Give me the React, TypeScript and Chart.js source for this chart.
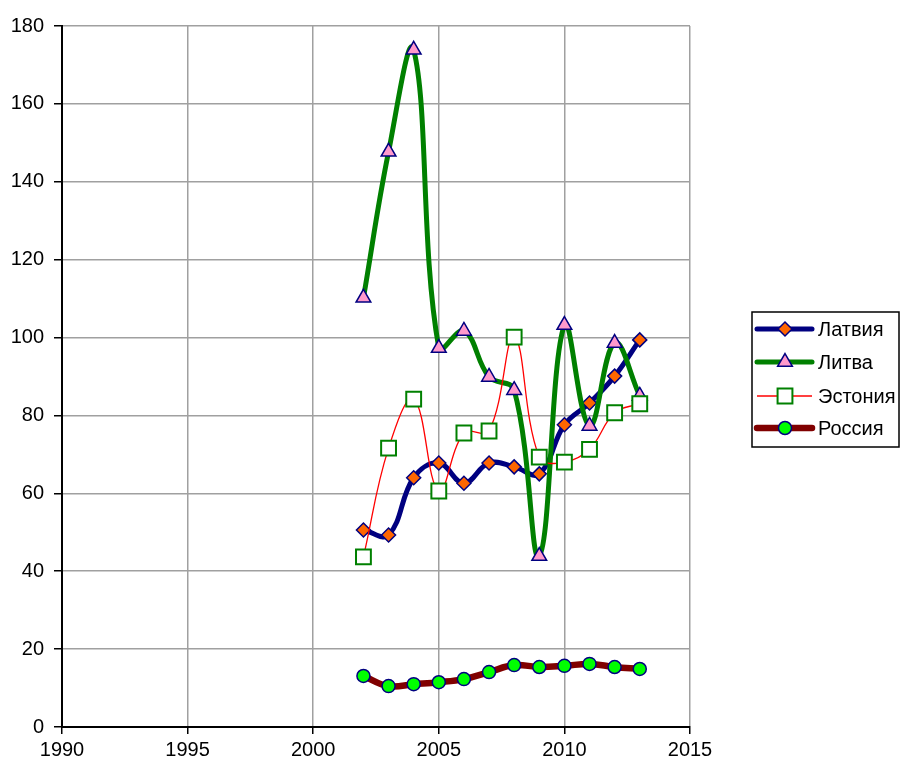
import React, { useEffect, useRef } from "react";
import { Chart, registerables } from "chart.js";

Chart.register(...registerables);

const years = [2002, 2003, 2004, 2005, 2006, 2007, 2008, 2009, 2010, 2011, 2012, 2013];
const latvia = [50.6, 49.3, 64.0, 67.8, 62.6, 67.8, 66.8, 65.0, 77.6, 83.2, 90.1, 99.4];
const lithuania = [110.2, 147.7, 173.9, 97.3, 101.7, 89.9, 86.5, 43.9, 103.2, 77.3, 98.6, 85.0];
const estonia = [43.7, 71.6, 84.2, 60.6, 75.5, 76.0, 100.1, 69.3, 68.0, 71.3, 80.7, 83.0];
const russia = [13.1, 10.5, 11.0, 11.5, 12.3, 14.1, 15.9, 15.4, 15.7, 16.2, 15.4, 14.9];
const seriesNames = ["Латвия", "Литва", "Эстония", "Россия"];
const xTicks = [1990, 1995, 2000, 2005, 2010, 2015];
const yTicks = [0, 20, 40, 60, 80, 100, 120, 140, 160, 180];

const FONT = "'Liberation Sans', Arial, sans-serif";

function drawMarker(ctx: CanvasRenderingContext2D, style: string, x: number, y: number, r: number, fill: string, stroke: string, bw: number) {
  ctx.save();
  ctx.beginPath();
  if (style === "rectRot") {
    ctx.moveTo(x, y - r);
    ctx.lineTo(x + r, y);
    ctx.lineTo(x, y + r);
    ctx.lineTo(x - r, y);
    ctx.closePath();
  } else if (style === "triangle") {
    ctx.moveTo(x, y - r);
    ctx.lineTo(x + r * 0.866, y + r * 0.5);
    ctx.lineTo(x - r * 0.866, y + r * 0.5);
    ctx.closePath();
  } else if (style === "rect") {
    const s = r * Math.SQRT1_2;
    ctx.rect(x - s, y - s, 2 * s, 2 * s);
  } else {
    ctx.arc(x, y, r, 0, Math.PI * 2);
  }
  ctx.fillStyle = fill;
  ctx.fill();
  ctx.lineWidth = bw;
  ctx.strokeStyle = stroke;
  ctx.stroke();
  ctx.restore();
}

const legendPlugin = {
  id: "customLegend",
  afterDraw(chart: any) {
    const ctx = chart.ctx as CanvasRenderingContext2D;
    const left = 752, top = 312, w = 147, h = 135;
    ctx.save();
    ctx.fillStyle = "#ffffff";
    ctx.fillRect(left, top, w, h);
    ctx.lineWidth = 1.5;
    ctx.strokeStyle = "#000000";
    ctx.strokeRect(left, top, w, h);
    const rowsY = [329, 362, 396, 428];
    chart.data.datasets.forEach((ds: any, i: number) => {
      const y = rowsY[i];
      ctx.beginPath();
      ctx.moveTo(757, y);
      ctx.lineTo(812, y);
      ctx.lineWidth = ds.borderWidth;
      ctx.strokeStyle = ds.borderColor;
      ctx.lineCap = ds.borderWidth > 2 ? "round" : "butt";
      ctx.stroke();
      drawMarker(ctx, ds.pointStyle, 785, y, ds.pointRadius, ds.pointBackgroundColor, ds.pointBorderColor, ds.pointBorderWidth);
      ctx.fillStyle = "#000";
      ctx.font = `20px ${FONT}`;
      ctx.textBaseline = "middle";
      ctx.textAlign = "left";
      ctx.fillText(ds.label, 818, y + 1);
    });
    ctx.restore();
  },
};

export default function App() {
  const ref = useRef<HTMLCanvasElement | null>(null);
  useEffect(() => {
    document.body.style.margin = "0";
    if (!ref.current) return;
    const mk = (arr: number[]) => years.map((x, i) => ({ x, y: arr[i] }));
    const chart = new Chart(ref.current, {
      type: "line",
      data: {
        datasets: [
          {
            label: seriesNames[0],
            data: mk(latvia),
            borderColor: "#000080",
            borderWidth: 5,
            pointStyle: "rectRot",
            pointRadius: 7,
            pointBackgroundColor: "#FF6600",
            pointBorderColor: "#000080",
            pointBorderWidth: 1.5,
            tension: 0.4,
            order: 4,
          },
          {
            label: seriesNames[1],
            data: mk(lithuania),
            borderColor: "#008000",
            borderWidth: 5,
            pointStyle: "triangle",
            pointRadius: 8.5,
            pointBackgroundColor: "#FF99CC",
            pointBorderColor: "#000080",
            pointBorderWidth: 1.5,
            tension: 0.4,
            order: 3,
          },
          {
            label: seriesNames[2],
            data: mk(estonia),
            borderColor: "#FF0000",
            borderWidth: 1.3,
            pointStyle: "rect",
            pointRadius: 10.5,
            pointBackgroundColor: "#FFFFFF",
            pointBorderColor: "#008000",
            pointBorderWidth: 2,
            tension: 0.4,
            order: 2,
          },
          {
            label: seriesNames[3],
            data: mk(russia),
            borderColor: "#800000",
            borderWidth: 6.5,
            pointStyle: "circle",
            pointRadius: 6.5,
            pointBackgroundColor: "#00FF00",
            pointBorderColor: "#000080",
            pointBorderWidth: 1.5,
            tension: 0.4,
            order: 1,
          },
        ] as any,
      },
      options: {
        animation: false,
        responsive: false,
        maintainAspectRatio: false,
        layout: { padding: { left: 0, right: 211, top: 26, bottom: 0 } },
        plugins: { legend: { display: false }, tooltip: { enabled: false } },
        scales: {
          x: {
            type: "linear",
            min: 1990,
            max: 2015,
            afterBuildTicks: (s: any) => { s.ticks = xTicks.map((v) => ({ value: v })); },
            afterFit: (s: any) => { s.height = 36; },
            grid: { color: "#a0a0a0", lineWidth: 1.5, tickLength: 7, tickColor: "#000" },
            border: { color: "#000", width: 2 },
            ticks: { color: "#000", font: { family: FONT, size: 20 }, padding: 4, maxRotation: 0, callback: (v: any) => String(v) },
          },
          y: {
            min: 0,
            max: 180,
            afterBuildTicks: (s: any) => { s.ticks = yTicks.map((v) => ({ value: v })); },
            afterFit: (s: any) => { s.width = 62; },
            grid: { color: "#a0a0a0", lineWidth: 1.5, tickLength: 8, tickColor: "#000" },
            border: { color: "#000", width: 2 },
            ticks: { color: "#000", font: { family: FONT, size: 20 }, padding: 10 },
          },
        },
      },
      plugins: [legendPlugin],
    });
    return () => chart.destroy();
  }, []);
  return (
    <div style={{ width: 901, height: 763, background: "#fff" }}>
      <canvas ref={ref} width={901} height={763} style={{ width: 901, height: 763, display: "block" }} />
    </div>
  );
}
